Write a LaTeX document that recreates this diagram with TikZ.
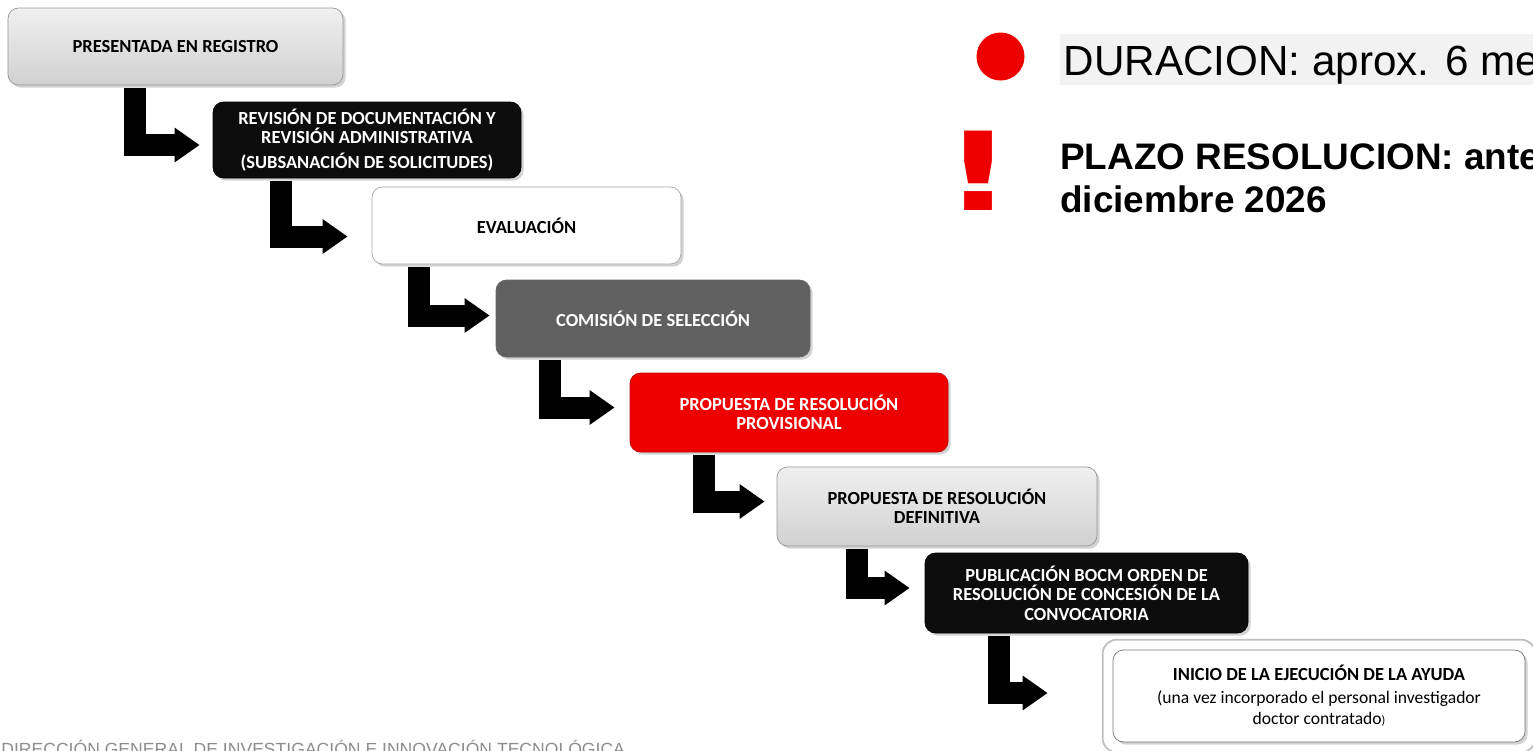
\documentclass[tikz,border=0pt]{standalone}
\usepackage{fontspec}
\setmainfont{Carlito}
\newfontfamily\arialfont{Liberation Sans}
\newfontfamily\signfont{DejaVu Sans}
\usetikzlibrary{arrows.meta,positioning,shadows,calc}
\definecolor{boxred}{RGB}{238,0,0}
\definecolor{boxgrey}{RGB}{96,96,96}
\definecolor{framegrey}{RGB}{150,150,150}
\definecolor{bgnote}{RGB}{242,242,242}
\definecolor{footgrey}{RGB}{140,140,140}

\tikzset{
  stepbox/.style={rounded corners=6pt, align=center, inner sep=2pt,
    font=\bfseries\fontsize{10.5}{11}\selectfont,
    drop shadow={opacity=0.35, shadow xshift=1.5pt, shadow yshift=-1.5pt}},
  lightbox/.style={stepbox, draw=framegrey, top color=black!6, bottom color=black!18},
  darkbox/.style={stepbox, draw=black, fill=black!95, text=white},
  whitebox/.style={stepbox, draw=black!35, fill=white},
  greybox/.style={stepbox, draw=black!60, fill=boxgrey, text=white},
  redbox/.style={stepbox, draw=boxred!80!black, fill=boxred, text=white},
  steparrow/.style={line width=0.44cm, -{Triangle[width=0.66cm,length=0.5cm]}, shorten >=0.26cm},
}

\begin{document}
\begin{tikzpicture}
  \useasboundingbox (0,0) rectangle (30.66,-15);
  \clip (0,0) rectangle (30.66,-15);

  %% Steps
  \node[lightbox, minimum width=6.7cm, minimum height=1.54cm]  (registro)    at (3.51,-0.93)   {PRESENTADA EN REGISTRO};
  \node[darkbox, minimum width=6.16cm, minimum height=1.52cm]  (revision)    at (7.34,-2.80)   {REVISIÓN DE DOCUMENTACIÓN Y\\REVISIÓN ADMINISTRATIVA\\[3pt](SUBSANACIÓN DE SOLICITUDES)};
  \node[whitebox, minimum width=6.18cm, minimum height=1.54cm] (evaluacion)  at (10.53,-4.51)  {EVALUACIÓN};
  \node[greybox, minimum width=6.28cm, minimum height=1.54cm]  (comision)    at (13.06,-6.37)  {COMISIÓN DE SELECCIÓN};
  \node[redbox, minimum width=6.36cm, minimum height=1.58cm]   (provisional) at (15.78,-8.25)  {PROPUESTA DE RESOLUCIÓN\\PROVISIONAL};
  \node[lightbox, minimum width=6.4cm, minimum height=1.58cm]  (definitiva)  at (18.74,-10.13) {PROPUESTA DE RESOLUCIÓN\\DEFINITIVA};
  \node[darkbox, minimum width=6.46cm, minimum height=1.6cm]   (publicacion) at (21.73,-11.86) {PUBLICACIÓN BOCM ORDEN DE\\RESOLUCIÓN DE CONCESIÓN DE LA\\CONVOCATORIA};
  \node[whitebox, draw=black!55, minimum width=8.24cm, minimum height=1.84cm, font=\fontsize{10}{12}\selectfont] (inicio) at (26.38,-13.92)
    {{\bfseries\fontsize{10.5}{12}\selectfont INICIO DE LA EJECUCIÓN DE LA AYUDA}\\[1pt](una vez incorporado el personal investigador\\doctor contratado{\scriptsize )}};
  \draw[black!25, line width=1pt, rounded corners=8pt] ([shift={(-0.2cm,0.2cm)}]inicio.north west) rectangle ([shift={(0.2cm,-0.2cm)}]inicio.south east);

  %% L-shaped arrows
  \draw[steparrow] ([xshift=2.54cm,yshift=-0.05cm]registro.south west)    |- ([yshift=-0.1cm]revision.west);
  \draw[steparrow, shorten >=0.48cm] ([xshift=1.36cm,yshift=-0.05cm]revision.south west) |- ([yshift=-0.22cm]evaluacion.west);
  \draw[steparrow, shorten >=0.12cm] ([xshift=0.94cm,yshift=-0.05cm]evaluacion.south west) |- ([yshift=0.06cm]comision.west);
  \draw[steparrow, shorten >=0.3cm]  ([xshift=1.08cm,yshift=-0.05cm]comision.south west)  |- ([yshift=0.1cm]provisional.west);
  \draw[steparrow, shorten >=0.24cm] ([xshift=1.48cm,yshift=-0.05cm]provisional.south west) |- ([yshift=0.1cm]definitiva.west);
  \draw[steparrow, shorten >=0.3cm]  ([xshift=1.6cm,yshift=-0.05cm]definitiva.south west) |- ([yshift=0.1cm]publicacion.west);
  \draw[steparrow, shorten >=1.3cm]  ([xshift=1.48cm,yshift=-0.05cm]publicacion.south west) |- ([yshift=0.06cm]inicio.west);

  %% Notes
  \node[circle, fill=boxred, minimum size=0.96cm, inner sep=0pt] (dot) at (20.01,-1.13) {};
  \node[font=\arialfont\fontsize{24}{28}\selectfont, fill=bgnote, anchor=base west, text height=0.62cm, text depth=0cm, inner xsep=2pt, inner ysep=0.2cm] (duracion) at (21.2,-1.50) {DURACION: aprox. 6 me};
  \node[font=\signfont\bfseries\fontsize{62}{62}\selectfont, text=boxred, anchor=base, inner sep=0pt, xscale=1.45] (aviso) at (19.58,-4.2) {!};
  \node[font=\arialfont\bfseries\fontsize{21}{24.5}\selectfont, align=left, anchor=north west, inner sep=0pt] (plazo) at (21.2,-2.86) {PLAZO RESOLUCION: ante\\diciembre 2026};

  %% Footer
  \node[font=\arialfont\fontsize{10}{12}\selectfont, text=footgrey, anchor=base west, inner sep=0pt] (pie) at (0.02,-15.1) {DIRECCIÓN GENERAL DE INVESTIGACIÓN E INNOVACIÓN TECNOLÓGICA};
\end{tikzpicture}
\end{document}
